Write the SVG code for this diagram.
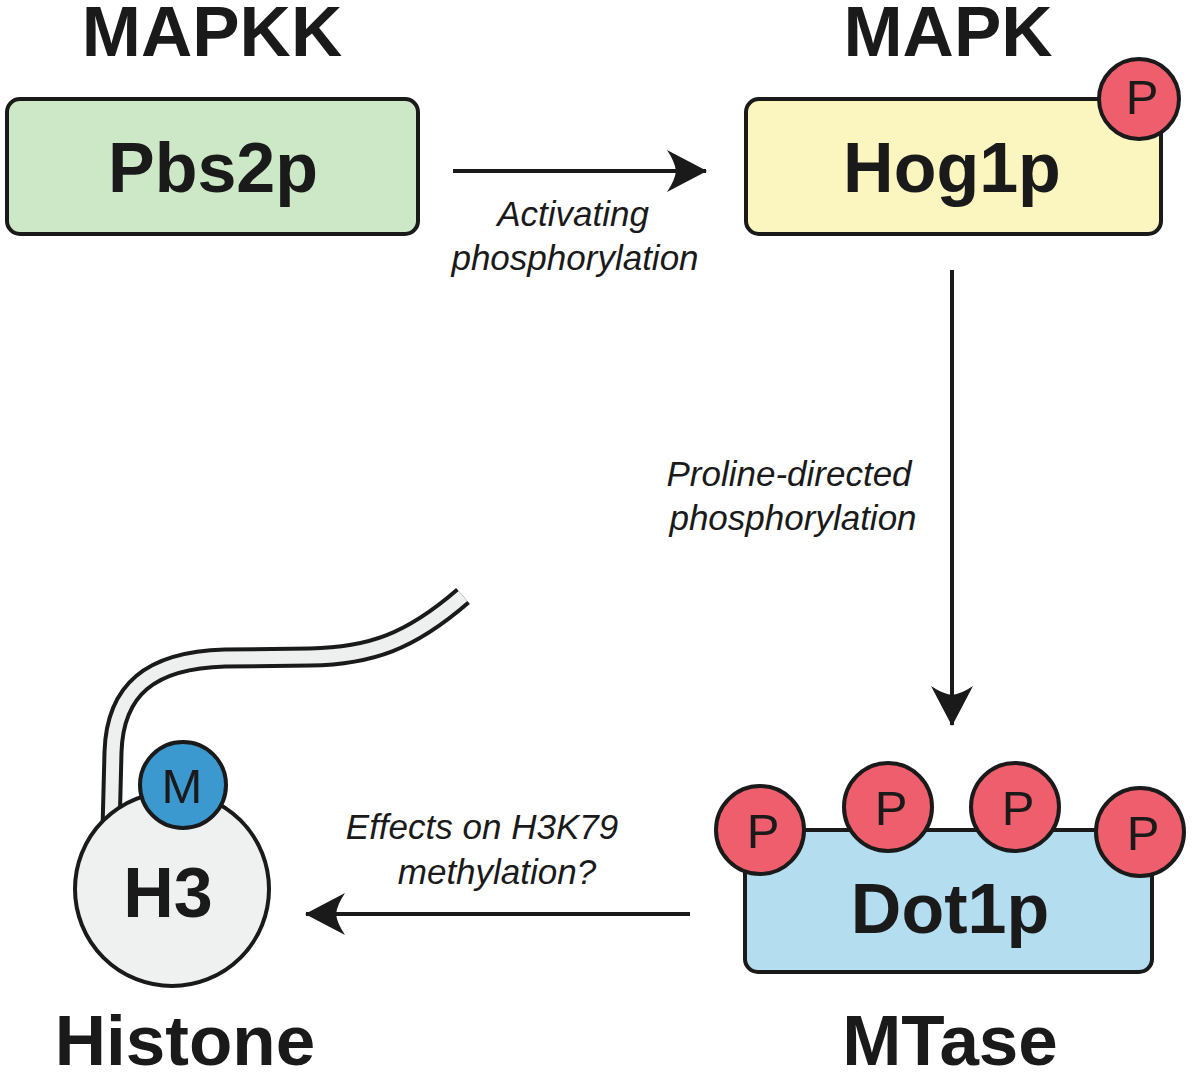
<svg xmlns="http://www.w3.org/2000/svg" width="1200" height="1072" viewBox="0 0 1200 1072">
  <style>
    .head { font-family: "Liberation Sans", Arial, sans-serif; font-weight: bold; font-size: 71px; fill: #1a1a1a; text-anchor: middle; }
    .name { font-family: "Liberation Sans", Arial, sans-serif; font-weight: bold; font-size: 70px; fill: #1a1a1a; text-anchor: middle; }
    .lbl { font-family: "Liberation Sans", Arial, sans-serif; font-style: italic; font-size: 35px; fill: #1a1a1a; text-anchor: middle; }
    .mod { font-family: "Liberation Sans", Arial, sans-serif; font-size: 49px; fill: #1a1a1a; text-anchor: middle; }
    .box { stroke: #1a1a1a; stroke-width: 4; }
    .pc { fill: #ee5e6c; stroke: #1a1a1a; stroke-width: 4; }
    .conn { stroke: #1a1a1a; stroke-width: 4; fill: none; }
  </style>
  <defs>
    <marker id="ah" markerUnits="userSpaceOnUse" markerWidth="44" markerHeight="48" viewBox="-42 -24 44 48" refX="0" refY="0" orient="auto">
      <path d="M1,0 L-39,-21 Q-31,-9 -30,0 Q-31,9 -39,21 Z" fill="#1a1a1a"/>
    </marker>
  </defs>
  <rect width="1200" height="1072" fill="#ffffff"/>

  <g id="headings">
    <text class="head" x="212" y="56">MAPKK</text>
    <text class="head" x="948" y="56">MAPK</text>
    <text class="head" x="185" y="1065">Histone</text>
    <text class="head" x="950" y="1065">MTase</text>
  </g>

  <g id="connectors">
    <path class="conn" d="M453 171 L706 171" marker-end="url(#ah)"/>
    <path class="conn" d="M952 270 L952 725" marker-end="url(#ah)"/>
    <path class="conn" d="M690 914 L306 914" marker-end="url(#ah)"/>
    <text class="lbl" x="573" y="226">Activating</text>
    <text class="lbl" x="575" y="270">phosphorylation</text>
    <text class="lbl" x="789" y="486">Proline-directed</text>
    <text class="lbl" x="793" y="530">phosphorylation</text>
    <text class="lbl" x="482" y="839">Effects on H3K79</text>
    <text class="lbl" x="497" y="884">methylation?</text>
  </g>

  <g id="pbs2p">
    <rect class="box" x="7" y="99" width="411" height="135" rx="13" fill="#cde8c7"/>
    <text class="name" x="213" y="192">Pbs2p</text>
  </g>

  <g id="hog1p">
    <rect class="box" x="746" y="99" width="415" height="135" rx="13" fill="#fbf5c0"/>
    <text class="name" x="952" y="192">Hog1p</text>
    <circle class="pc" cx="1139" cy="99" r="40"/>
    <text class="mod" x="1142" y="114">P</text>
  </g>

  <g id="dot1p">
    <rect class="box" x="745" y="830" width="407" height="142" rx="13" fill="#b5ddf0"/>
    <text class="name" x="950" y="933">Dot1p</text>
    <circle class="pc" cx="760" cy="830" r="44"/>
    <text class="mod" x="763" y="848">P</text>
    <circle class="pc" cx="888" cy="807" r="44"/>
    <text class="mod" x="891" y="825">P</text>
    <circle class="pc" cx="1015" cy="807" r="44"/>
    <text class="mod" x="1018" y="825">P</text>
    <circle class="pc" cx="1140" cy="832" r="44"/>
    <text class="mod" x="1143" y="850">P</text>
  </g>

  <g id="histone">
    <path d="M111 830 L113 752 C115 690 150 660 225 658 L310 657 C370 656 410 642 463 596" fill="none" stroke="#1a1a1a" stroke-width="21"/>
    <path d="M111 830 L113 752 C115 690 150 660 225 658 L310 657 C370 656 410 642 463 596" fill="none" stroke="#eef0ef" stroke-width="13"/>
    <circle cx="172" cy="889" r="97" fill="#eff1f1" stroke="#1a1a1a" stroke-width="4"/>
    <text class="name" x="168" y="917">H3</text>
    <circle cx="183" cy="785" r="43" fill="#3c99d0" stroke="#1a1a1a" stroke-width="4"/>
    <text class="mod" x="182" y="803">M</text>
  </g>
</svg>
